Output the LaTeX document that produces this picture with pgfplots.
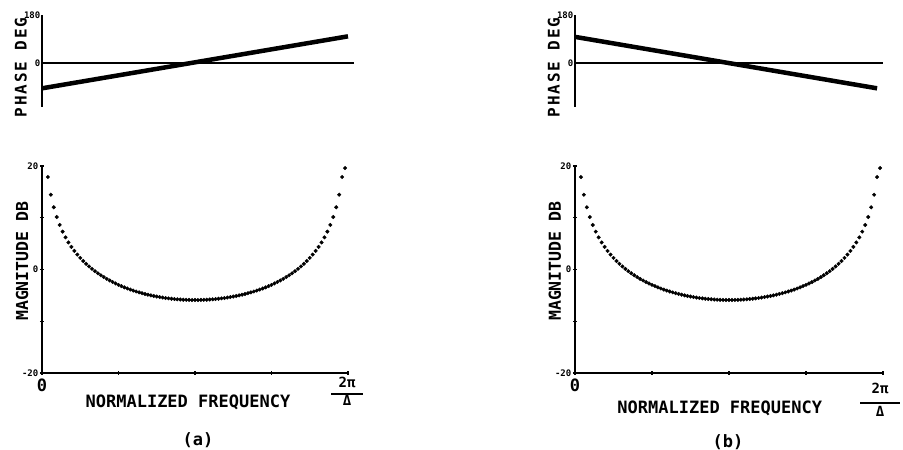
\documentclass[border=0pt]{standalone}
\usepackage{pgfplots}
\pgfplotsset{compat=1.18}
\usepackage{pgfplotstable}
\usepackage{fontspec}
\setmainfont{DejaVu Sans Mono}
\pgfplotstableread{
k M
2 17.87
3 14.45
4 12.02
5 10.14
6 8.61
7 7.32
8 6.21
9 5.23
10 4.37
11 3.59
12 2.88
13 2.24
14 1.64
15 1.10
16 0.59
17 0.12
18 -0.32
19 -0.73
20 -1.11
21 -1.47
22 -1.81
23 -2.12
24 -2.42
25 -2.70
26 -2.97
27 -3.21
28 -3.45
29 -3.67
30 -3.88
31 -4.07
32 -4.25
33 -4.42
34 -4.58
35 -4.73
36 -4.87
37 -5.00
38 -5.12
39 -5.23
40 -5.33
41 -5.42
42 -5.51
43 -5.58
44 -5.65
45 -5.71
46 -5.76
47 -5.80
48 -5.84
49 -5.86
50 -5.88
51 -5.90
52 -5.90
53 -5.90
54 -5.88
55 -5.86
56 -5.84
57 -5.80
58 -5.76
59 -5.71
60 -5.65
61 -5.58
62 -5.51
63 -5.42
64 -5.33
65 -5.23
66 -5.12
67 -5.00
68 -4.87
69 -4.73
70 -4.58
71 -4.42
72 -4.25
73 -4.07
74 -3.88
75 -3.67
76 -3.45
77 -3.21
78 -2.97
79 -2.70
80 -2.42
81 -2.12
82 -1.81
83 -1.47
84 -1.11
85 -0.73
86 -0.32
87 0.12
88 0.59
89 1.10
90 1.64
91 2.24
92 2.88
93 3.59
94 4.37
95 5.23
96 6.21
97 7.32
98 8.61
99 10.14
100 12.02
101 14.45
102 17.87
103 19.60
}\magdata
\pgfplotsset{
  phasestyle/.style={
    scale only axis, width=306pt, height=92pt, anchor=south west,
    xmin=0, xmax=104, ymin=-165, ymax=180, clip=false,
    axis x line=none, axis y line=left,
    axis line style={line width=2.5pt,-},
    ytick={0,180}, yticklabels={0,180}, major tick length=0pt,
    yticklabel style={font=\bfseries\fontsize{9}{10}\selectfont, inner sep=1.5pt},
    ylabel={\bfseries\fontsize{16}{17}\selectfont\addfontfeature{LetterSpace=12}PHASE DEG},
  },
  magstyle/.style={
    scale only axis, width=306pt, height=207pt, anchor=south west,
    xmin=0, xmax=104, ymin=-20, ymax=20, clip=false,
    axis lines=left, axis line style={line width=2.5pt,-},
    xtick={0,26,52,78,104}, xticklabels={0,,,,},
    ytick={-20,-10,0,10,20}, yticklabels={-20,,0,,20},
    every tick/.style={black, line width=1.2pt}, major tick length=4pt,
    xticklabel style={font=\bfseries\fontsize{17}{18}\selectfont, inner sep=1pt, yshift=-3pt},
    yticklabel style={font=\bfseries\fontsize{9}{10}\selectfont, inner sep=1.5pt},
    ylabel={\bfseries\fontsize{16.5}{17}\selectfont MAGNITUDE DB},
    xlabel={\bfseries\fontsize{17}{18}\selectfont NORMALIZED FREQUENCY},
  },
}
\begin{document}
\begin{tikzpicture}
\path[use as bounding box] (0pt,0pt) rectangle (903pt,450pt);
% (a) phase
\begin{axis}[phasestyle, at={(42pt,343pt)},
  ylabel style={at={(axis description cs:-0.069,0.43)}, anchor=center}]
\addplot[black, line width=2.2pt] coordinates {(0,0) (106,0)};
\addplot[black, line width=4.5pt] coordinates {(0,-95) (104,100)};
\end{axis}
% (a) magnitude
\begin{axis}[magstyle, at={(42pt,77pt)},
  ylabel style={at={(axis description cs:-0.065,0.54)}, anchor=center},
  xlabel style={at={(axis description cs:0.477,-0.14)}, anchor=center}]
\addplot[only marks, mark=*, mark size=1.8pt, black] table[x=k, y=M] {\magdata};
\end{axis}
% (b) phase
\begin{axis}[phasestyle, at={(575pt,343pt)}, width=308pt,
  ylabel style={at={(axis description cs:-0.069,0.43)}, anchor=center}]
\addplot[black, line width=2.2pt] coordinates {(0,0) (104,0)};
\addplot[black, line width=4.5pt] coordinates {(0,98) (102,-95)};
\end{axis}
% (b) magnitude
\begin{axis}[magstyle, at={(575pt,77pt)}, width=308pt,
  ylabel style={at={(axis description cs:-0.065,0.54)}, anchor=center},
  xlabel style={at={(axis description cs:0.47,-0.17)}, anchor=center}]
\addplot[only marks, mark=*, mark size=1.8pt, black] table[x=k, y=M] {\magdata};
\end{axis}
\node[font=\bfseries\fontsize{14}{14}\selectfont, align=center, inner sep=0pt] at (347pt,59pt) {2π\\[-6pt]\rule{32pt}{2pt}\\[-4pt]Δ};
\node[font=\bfseries\fontsize{14}{14}\selectfont, align=center, inner sep=0pt] at (880pt,50pt) {2π\\[-4pt]\rule{40pt}{2pt}\\[-1pt]Δ};
\node[font=\bfseries\fontsize{17}{18}\selectfont] at (198pt,10pt) {\relax(a)};
\node[font=\bfseries\fontsize{17}{18}\selectfont] at (728pt,8pt) {\relax(b)};
\end{tikzpicture}
\end{document}
